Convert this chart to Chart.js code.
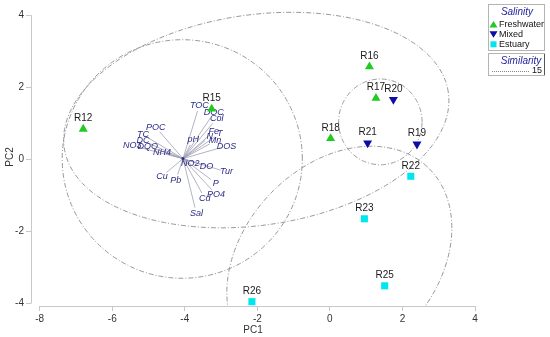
<!DOCTYPE html>
<html>
<head>
<meta charset="utf-8">
<script src="https://cdn.jsdelivr.net/npm/chart.js@4.4.0/dist/chart.umd.min.js"></script>
<style>
  html, body { margin: 0; padding: 0; background: #fff; }
  #wrap { width: 550px; height: 337px; position: relative; }
</style>
</head>
<body>
<div id="wrap"><canvas id="pcaChart"></canvas></div>
<script>
// sampling sites (PCA scores)
var siteNames = ["R12", "R15", "R16", "R17", "R18", "R19", "R20", "R21", "R22", "R23", "R25", "R26"];
var siteGroup = ["Freshwater", "Freshwater", "Freshwater", "Freshwater", "Freshwater", "Mixed", "Mixed", "Mixed", "Estuary", "Estuary", "Estuary", "Estuary"];
var sitePC1 = [-6.80, -3.26, 1.09, 1.27, 0.02, 2.40, 1.75, 1.04, 2.23, 0.95, 1.51, -2.15];
var sitePC2 = [0.84, 1.40, 2.57, 1.70, 0.58, 0.42, 1.66, 0.45, -0.47, -1.65, -3.51, -3.95];

var groupNames = ["Freshwater", "Mixed", "Estuary"];
var groupColors = ["#1ecb1e", "#0c0ca6", "#00e6ee"];

// variable vectors (tips)
var varNames = ["TOC", "DOC", "Col", "POC", "pH", "Fe", "T", "N", "Mn", "DOS", "TC", "DC", "NO3", "DQO", "NH4", "NO2", "DO", "Tur", "Cu", "Pb", "P", "PO4", "Cd", "Sal"];
var varPC1 = [-3.60, -3.20, -3.12, -4.80, -3.77, -3.20, -3.04, -3.31, -3.17, -2.85, -5.15, -5.15, -5.45, -5.02, -4.63, -3.85, -3.40, -2.85, -4.63, -4.25, -3.15, -3.14, -3.45, -3.68];
var varPC2 = [1.50, 1.29, 1.13, 0.89, 0.55, 0.78, 0.71, 0.63, 0.51, 0.37, 0.68, 0.52, 0.38, 0.36, 0.19, -0.11, -0.20, -0.35, -0.47, -0.58, -0.66, -0.97, -1.08, -1.50];
var vecOrigin = [-4.05, 0.02];

// similarity 15 contours
var ellipseCX = [-2.03, -4.07, 1.39, 0.26];
var ellipseCY = [1.09, 0.01, 1.04, -2.80];
var ellipseA = [5.35, 3.31, 1.15, 3.55];
var ellipseB = [2.92, 3.31, 1.19, 2.65];
var ellipseAngle = [8.3, 0, 0, 47];

var xTicks = [-8, -6, -4, -2, 0, 2, 4];
var yTicks = [-4, -2, 0, 2, 4];

var datasets = groupNames.map(function (g, gi) {
  var pts = [];
  for (var i = 0; i < siteNames.length; i++) {
    if (siteGroup[i] === g) pts.push({ x: sitePC1[i], y: sitePC2[i], label: siteNames[i] });
  }
  return {
    label: g,
    data: pts,
    backgroundColor: groupColors[gi],
    borderColor: groupColors[gi],
    borderWidth: 0,
    pointStyle: g === "Estuary" ? "rect" : "triangle",
    rotation: g === "Mixed" ? 180 : 0,
    pointRadius: g === "Estuary" ? 5 : 5.2,
  };
});

var overlayPlugin = {
  id: "overlay",
  beforeDatasetsDraw: function (chart) {
    var ctx = chart.ctx;
    var xs = chart.scales.x;
    var ys = chart.scales.y;
    var area = chart.chartArea;

    // axis lines (range frame)
    ctx.save();
    ctx.strokeStyle = "#c8c8c8";
    ctx.lineWidth = 1;
    ctx.beginPath();
    ctx.moveTo(xs.getPixelForValue(xTicks[0]), Math.round(area.bottom) + 0.5);
    ctx.lineTo(xs.getPixelForValue(xTicks[xTicks.length - 1]), Math.round(area.bottom) + 0.5);
    ctx.moveTo(Math.round(area.left) + 0.5, ys.getPixelForValue(yTicks[yTicks.length - 1]));
    ctx.lineTo(Math.round(area.left) + 0.5, ys.getPixelForValue(yTicks[0]));
    ctx.stroke();

    // contours
    ctx.beginPath();
    ctx.rect(area.left, area.top, area.right - area.left, area.bottom - area.top);
    ctx.clip();
    ctx.strokeStyle = "#8c8c8c";
    ctx.lineWidth = 0.9;
    ctx.setLineDash([5, 2, 1, 2]);
    for (var i = 0; i < ellipseCX.length; i++) {
      var rot = ellipseAngle[i] * Math.PI / 180;
      ctx.beginPath();
      for (var k = 0; k <= 240; k++) {
        var t = k / 240 * 2 * Math.PI;
        var ex = ellipseA[i] * Math.cos(t);
        var ey = ellipseB[i] * Math.sin(t);
        var px = xs.getPixelForValue(ellipseCX[i] + ex * Math.cos(rot) - ey * Math.sin(rot));
        var py = ys.getPixelForValue(ellipseCY[i] + ex * Math.sin(rot) + ey * Math.cos(rot));
        if (k === 0) ctx.moveTo(px, py); else ctx.lineTo(px, py);
      }
      ctx.stroke();
    }
    ctx.setLineDash([]);

    // vectors
    var ox = xs.getPixelForValue(vecOrigin[0]);
    var oy = ys.getPixelForValue(vecOrigin[1]);
    ctx.strokeStyle = "#a0a0b4";
    ctx.lineWidth = 0.8;
    for (var j = 0; j < varNames.length; j++) {
      var tx = xs.getPixelForValue(varPC1[j]);
      var ty = ys.getPixelForValue(varPC2[j]);
      var dx = tx - ox, dy = ty - oy;
      var len = Math.sqrt(dx * dx + dy * dy);
      var cut = Math.max(0, len - 6) / len;
      ctx.beginPath();
      ctx.moveTo(ox, oy);
      ctx.lineTo(ox + dx * cut, oy + dy * cut);
      ctx.stroke();
    }
    ctx.fillStyle = "#2c2c86";
    ctx.beginPath();
    ctx.arc(ox, oy, 1.5, 0, 2 * Math.PI);
    ctx.fill();
    ctx.font = "italic 9px Arial, 'Liberation Sans', sans-serif";
    ctx.textAlign = "center";
    ctx.textBaseline = "middle";
    for (var m = 0; m < varNames.length; m++) {
      ctx.fillText(varNames[m], xs.getPixelForValue(varPC1[m]), ys.getPixelForValue(varPC2[m]));
    }
    ctx.restore();
  },
  afterDatasetsDraw: function (chart) {
    var ctx = chart.ctx;
    ctx.save();
    ctx.font = "10px Arial, 'Liberation Sans', sans-serif";
    ctx.fillStyle = "#1a1a1a";
    ctx.textAlign = "center";
    ctx.textBaseline = "middle";
    chart.data.datasets.forEach(function (ds, di) {
      chart.getDatasetMeta(di).data.forEach(function (el, k) {
        ctx.fillText(ds.data[k].label, el.x, el.y - 10.5);
      });
    });
    ctx.restore();
  },
  afterDraw: function (chart) {
    var ctx = chart.ctx;
    ctx.save();
    // salinity legend
    ctx.strokeStyle = "#b4b4b4";
    ctx.lineWidth = 1;
    ctx.strokeRect(488.5, 4.5, 56, 46);
    ctx.fillStyle = "#1c1c9a";
    ctx.font = "italic 10px Arial, 'Liberation Sans', sans-serif";
    ctx.textAlign = "center";
    ctx.textBaseline = "middle";
    ctx.fillText("Salinity", 517, 12.5);
    var rowY = [24.5, 34.3, 44.3];
    ctx.font = "9px Arial, 'Liberation Sans', sans-serif";
    ctx.textAlign = "left";
    for (var i = 0; i < groupNames.length; i++) {
      var y = rowY[i];
      ctx.fillStyle = groupColors[i];
      ctx.beginPath();
      if (i === 0) {
        ctx.moveTo(493.5, y - 3.5); ctx.lineTo(497.5, y + 3); ctx.lineTo(489.5, y + 3);
      } else if (i === 1) {
        ctx.moveTo(493.5, y + 3.5); ctx.lineTo(497.5, y - 3); ctx.lineTo(489.5, y - 3);
      } else {
        ctx.rect(490.5, y - 3, 6, 6);
      }
      ctx.closePath();
      ctx.fill();
      ctx.fillStyle = "#111";
      ctx.fillText(groupNames[i], 499, y);
    }
    // similarity legend
    ctx.strokeStyle = "#b4b4b4";
    ctx.strokeRect(488.5, 53.5, 56, 22);
    ctx.strokeStyle = "#555";
    ctx.beginPath();
    ctx.moveTo(544.5, 54);
    ctx.lineTo(544.5, 75);
    ctx.stroke();
    ctx.fillStyle = "#1c1c9a";
    ctx.font = "italic 10px Arial, 'Liberation Sans', sans-serif";
    ctx.textAlign = "center";
    ctx.fillText("Similarity", 521, 61);
    ctx.strokeStyle = "#888";
    ctx.setLineDash([1, 1]);
    ctx.beginPath();
    ctx.moveTo(492, 71.5);
    ctx.lineTo(530, 71.5);
    ctx.stroke();
    ctx.setLineDash([]);
    ctx.fillStyle = "#111";
    ctx.font = "9px Arial, 'Liberation Sans', sans-serif";
    ctx.textAlign = "right";
    ctx.fillText("15", 542, 71);
    ctx.restore();
  },
};

var ctxPca = document.getElementById("pcaChart").getContext("2d");
var pcaChart = new Chart(ctxPca, {
  type: "scatter",
  data: { datasets: datasets },
  options: {
    responsive: true,
    maintainAspectRatio: false,
    animation: false,
    layout: { padding: { top: 5, right: 75, left: 0, bottom: 0 } },
    scales: {
      x: {
        type: "linear",
        min: -8.24,
        max: 4,
        afterBuildTicks: function (scale) {
          scale.ticks = xTicks.map(function (v) { return { value: v }; });
        },
        afterFit: function (scale) { scale.height = 31; },
        grid: { display: true, drawOnChartArea: false, drawTicks: true, tickLength: 5, color: "#c8c8c8" },
        border: { display: false },
        ticks: { color: "#333", font: { family: "Arial", size: 10 }, padding: 2, maxRotation: 0 },
        title: { display: true, text: "PC1", color: "#333", font: { family: "Arial", size: 10 }, padding: { top: 0, bottom: 1 } },
      },
      y: {
        type: "linear",
        min: -4.07,
        max: 4.2,
        afterBuildTicks: function (scale) {
          scale.ticks = yTicks.map(function (v) { return { value: v }; });
        },
        afterFit: function (scale) { scale.width = 31; },
        grid: { display: true, drawOnChartArea: false, drawTicks: true, tickLength: 5, color: "#c8c8c8" },
        border: { display: false },
        ticks: { color: "#333", font: { family: "Arial", size: 10 }, padding: 2 },
        title: { display: true, text: "PC2", color: "#333", font: { family: "Arial", size: 10 }, padding: { top: 4, bottom: 0 } },
      },
    },
    plugins: {
      legend: { display: false },
      tooltip: { enabled: false },
    },
  },
  plugins: [overlayPlugin],
});
</script>
</body>
</html>
